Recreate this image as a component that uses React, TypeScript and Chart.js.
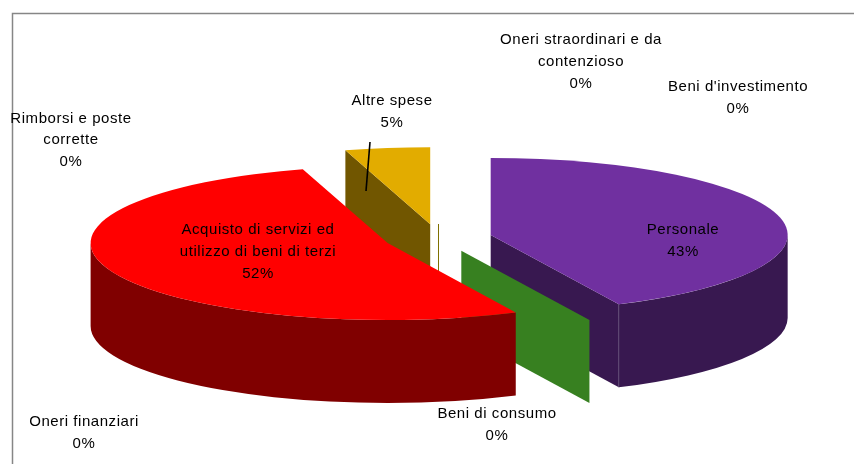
import { useEffect, useRef } from "react";
import { Chart, registerables } from "chart.js";

Chart.register(...registerables);

const categories = [
  ["Oneri finanziari"],
  ["Rimborsi e poste", "corrette"],
  ["Altre spese"],
  ["Oneri straordinari e da", "contenzioso"],
  ["Beni d'investimento"],
  ["Personale"],
  ["Beni di consumo"],
  ["Acquisto di servizi ed", "utilizzo di beni di terzi"],
];
const shares = [0, 0, 4.61, 0, 0, 42.9, 0, 52.49];
const topColours = ["#800000", "#808000", "#E2AC00", "#7F7000", "#7F7000", "#7030A0", "#378020", "#FF0000"];
const sideColours = ["rgba(0,0,0,0)", "rgba(0,0,0,0)", "#715600", "#7F7000", "#7F7000", "#381850", "#378020", "#800000"];
const labelCentres = [
  [84, 422],
  [71, 118.5],
  [392, 101],
  [581, 40],
  [738, 87],
  [683, 230],
  [497, 414],
  [258, 230],
];

const TILT = 77 / 297;
const DEPTH = 83;
const RADIUS = 297;
const EXPLODE = 54;
const LINE = 21.7;

const pie3d = {
  id: "pie3d",
  beforeDatasetDraw(chart: any, args: any) {
    const { ctx } = chart;
    const arcs = args.meta.data;
    arcs.forEach((arc: any, i: number) => {
      const half = (arc.startAngle + arc.endAngle) / 2;
      const dx = Math.cos(half) * EXPLODE;
      const dy = Math.sin(half) * EXPLODE;
      const px = arc.x + dx;
      const py = arc.y + dy * TILT;
      const r = arc.outerRadius;
      const rim = (a: number) => [px + Math.cos(a) * r, py + Math.sin(a) * r * TILT];
      const face = (a: number, colour: string) => {
        const [x, y] = rim(a);
        ctx.fillStyle = colour;
        ctx.beginPath();
        ctx.moveTo(px, py);
        ctx.lineTo(x, y);
        ctx.lineTo(x, y + DEPTH);
        ctx.lineTo(px, py + DEPTH);
        ctx.closePath();
        ctx.fill();
      };
      ctx.save();
      if (arc.circumference === 0) {
        if (Math.abs(Math.cos(arc.startAngle)) < 1e-3) {
          ctx.strokeStyle = sideColours[i];
          ctx.lineWidth = 1;
          ctx.beginPath();
          ctx.moveTo(Math.round(px) + 0.5, py);
          ctx.lineTo(Math.round(px) + 0.5, py + DEPTH);
          ctx.stroke();
        } else {
          face(arc.startAngle, sideColours[i]);
        }
      } else {
        if (Math.sin(arc.startAngle - Math.PI / 2) > 1e-3) face(arc.startAngle, sideColours[i]);
        if (Math.sin(arc.endAngle + Math.PI / 2) > 1e-3) face(arc.endAngle, sideColours[i]);
        const a0 = Math.max(arc.startAngle, 0);
        const a1 = Math.min(arc.endAngle, Math.PI);
        if (a1 > a0) {
          ctx.fillStyle = sideColours[i];
          ctx.beginPath();
          ctx.ellipse(px, py, r, r * TILT, 0, a0, a1);
          ctx.ellipse(px, py + DEPTH, r, r * TILT, 0, a1, a0, true);
          ctx.closePath();
          ctx.fill();
          if (Math.sin(arc.endAngle + Math.PI / 2) > 1e-3) {
            const [x, y] = rim(arc.endAngle);
            ctx.strokeStyle = "#6A5A80";
            ctx.lineWidth = 0.6;
            ctx.beginPath();
            ctx.moveTo(x, y);
            ctx.lineTo(x, y + DEPTH);
            ctx.stroke();
          }
        }
      }
      ctx.restore();
      ctx.save();
      ctx.translate(arc.x, arc.y);
      ctx.scale(1, TILT);
      ctx.translate(-arc.x + dx, -arc.y + dy);
      arc.draw(ctx);
      ctx.restore();
    });
    return false;
  },
  afterDatasetsDraw(chart: any) {
    const { ctx } = chart;
    ctx.save();
    ctx.strokeStyle = "#000000";
    ctx.lineWidth = 1.6;
    ctx.beginPath();
    ctx.moveTo(370, 142);
    ctx.lineTo(366, 191);
    ctx.stroke();
    ctx.strokeStyle = "#868686";
    ctx.lineWidth = 1.5;
    ctx.beginPath();
    ctx.moveTo(12.5, 464);
    ctx.lineTo(12.5, 13.5);
    ctx.lineTo(854, 13.5);
    ctx.stroke();
    ctx.fillStyle = "#000000";
    ctx.font = "15px 'Liberation Sans'";
    ctx.letterSpacing = "0.55px";
    ctx.textAlign = "center";
    ctx.textBaseline = "middle";
    const total = shares.reduce((s, v) => s + v, 0);
    categories.forEach((lines, i) => {
      const [x, y] = labelCentres[i];
      const text = [...lines, `${Math.round((shares[i] / total) * 100)}%`];
      text.forEach((t, n) => ctx.fillText(t, x, y + n * LINE));
    });
    ctx.restore();
  },
};

export default function App() {
  const ref = useRef<HTMLCanvasElement>(null);
  useEffect(() => {
    const chart = new Chart(ref.current!, {
      type: "pie",
      data: {
        labels: categories.map((c) => c.join(" ")),
        datasets: [
          {
            data: shares,
            backgroundColor: topColours,
            borderWidth: 0,
          },
        ],
      },
      options: {
        responsive: false,
        animation: false,
        radius: RADIUS,
        rotation: -16.596,
        layout: { padding: { left: 22, top: 12 } },
        plugins: { legend: { display: false }, tooltip: { enabled: false } },
      } as any,
      plugins: [pie3d],
    });
    return () => chart.destroy();
  }, []);
  return (
    <canvas
      ref={ref}
      width={854}
      height={464}
      style={{ position: "absolute", left: 0, top: 0, display: "block" }}
    />
  );
}
